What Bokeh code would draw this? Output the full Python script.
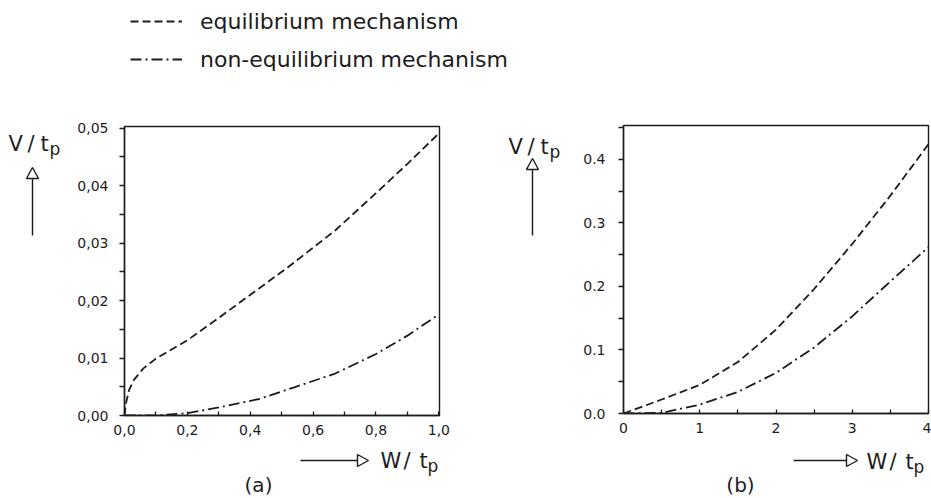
from bokeh.plotting import figure
from bokeh.layouts import row, column
from bokeh.models import Range1d, FixedTicker, Legend, LegendItem
from bokeh.core.properties import value
from bokeh.embed import file_html
from bokeh.resources import INLINE

# ---- panel (a): small w/t_p ----
W_A_EQ = [0.0, 0.005, 0.015, 0.03, 0.06, 0.10, 0.20, 0.30, 0.43, 0.52, 0.67, 0.80, 0.90, 1.00]
V_A_EQ = [0.0, 0.0022, 0.0045, 0.0062, 0.0082, 0.0099, 0.0131, 0.0170, 0.0222, 0.0258, 0.0322, 0.0387, 0.0438, 0.0491]
W_A_NE = [0.0, 0.10, 0.20, 0.30, 0.43, 0.54, 0.67, 0.80, 0.90, 1.00]
V_A_NE = [0.0, 0.0, 0.0004, 0.0014, 0.0029, 0.0049, 0.0073, 0.0107, 0.0139, 0.0176]

A_X_TICKS = [0.0, 0.2, 0.4, 0.6, 0.8, 1.0]
A_X_LABELS = ["0,0", "0,2", "0,4", "0,6", "0,8", "1,0"]
A_X_MINOR = [0.1, 0.3, 0.5, 0.7, 0.9]
A_Y_TICKS = [0.0, 0.01, 0.02, 0.03, 0.04, 0.05]
A_Y_LABELS = ["0,00", "0,01", "0,02", "0,03", "0,04", "0,05"]
A_Y_MINOR = [0.005, 0.015, 0.025, 0.035, 0.045]

# ---- panel (b): larger w/t_p ----
W_B = [0.0, 0.5, 1.0, 1.5, 2.0, 2.5, 3.0, 3.5, 4.0]
V_B_EQ = [0.0, 0.022, 0.045, 0.081, 0.132, 0.196, 0.267, 0.343, 0.424]
V_B_NE = [0.0, 0.001, 0.014, 0.034, 0.064, 0.104, 0.153, 0.208, 0.262]

B_X_TICKS = [0, 1, 2, 3, 4]
B_X_LABELS = ["0", "1", "2", "3", "4"]
B_X_MINOR = [0.5, 1.5, 2.5, 3.5]
B_Y_TICKS = [0.0, 0.1, 0.2, 0.3, 0.4]
B_Y_LABELS = ["0.0", "0.1", "0.2", "0.3", "0.4"]
B_Y_MINOR = [0.05, 0.15, 0.25, 0.35, 0.45]

SERIES_NAMES = ["equilibrium mechanism", "non-equilibrium mechanism"]

FONT = "DejaVu Sans"
INK = "#1c1c1c"
EQ_DASH = "8 4"
NE_DASH = "11 4 2 4"
CURVE_W = 1.8
NAN = float("nan")

# borders of the two chart panels (pixels)
A_LEFT, A_RIGHT, A_TOP, A_BOTTOM, A_WIDTH = 54, 41, 26, 30, 410
B_LEFT, B_RIGHT, B_TOP, B_BOTTOM, B_WIDTH = 53, 3, 25, 32, 361
PANEL_H = 345
FOOT_H = 53


def blank(width, height, left=0, right=0):
    """A bare drawing area in pixel units (y grows downwards)."""
    p = figure(width=width, height=height, output_backend="svg", toolbar_location=None,
               x_range=Range1d(left, width - right), y_range=Range1d(height, 0),
               min_border=0, min_border_left=left, min_border_right=right,
               x_axis_type=None, y_axis_type=None)
    p.grid.visible = False
    p.outline_line_color = None
    p.background_fill_color = "white"
    p.border_fill_color = "white"
    return p


def words(p, xs, ys, texts, size, align="left"):
    p.text(x=xs, y=ys, text=texts, text_font=value(FONT), text_font_size=value(size),
           text_color=INK, text_align=align, text_baseline="alphabetic")


def ratio_label(p, x0, base, letter, gaps):
    # "<letter> / t" followed by a lowered, smaller "p"
    g1, g2, g3 = gaps
    words(p, [x0, x0 + g1, x0 + g2], [base, base, base], [letter, "/", "t"], "21px")
    words(p, [x0 + g3], [base + 5], ["p"], "17px")


def up_arrow(p, x, tip, foot):
    base = tip + 11
    p.line([x, x], [foot, base], line_color=INK, line_width=1.4)
    p.patch([x - 6, x, x + 6], [base, tip, base], fill_color="white",
            line_color=INK, line_width=1.4)


def right_arrow(p, x0, tip, y):
    base = tip - 11
    p.line([x0, base], [y, y], line_color=INK, line_width=1.4)
    p.patch([base, tip, base], [y - 6, y, y + 6], fill_color="white",
            line_color=INK, line_width=1.4)


def make_panel(width, left, right, top, bottom, x_end, y_end,
               xt, xl, xm, yt, yl, ym, y_standoff):
    p = figure(width=width, height=PANEL_H, output_backend="svg", toolbar_location=None,
               x_range=Range1d(0, x_end), y_range=Range1d(0, y_end),
               min_border_left=left, min_border_right=right,
               min_border_top=top, min_border_bottom=bottom)
    p.grid.visible = False
    p.outline_line_color = INK
    p.outline_line_width = 1.4
    p.background_fill_color = "white"
    p.border_fill_color = "white"

    p.xaxis.ticker = FixedTicker(ticks=xt, minor_ticks=xm)
    p.xaxis.major_label_overrides = dict(zip(xt, xl))
    p.xaxis.major_tick_in = 4
    p.xaxis.major_tick_out = 0
    p.xaxis.minor_tick_in = 4
    p.xaxis.minor_tick_out = 0
    p.xaxis.major_label_standoff = 9

    p.yaxis.ticker = FixedTicker(ticks=yt, minor_ticks=ym)
    p.yaxis.major_label_overrides = dict(zip(yt, yl))
    p.yaxis.major_tick_in = 0
    p.yaxis.major_tick_out = 5
    p.yaxis.minor_tick_in = 0
    p.yaxis.minor_tick_out = 5
    p.yaxis.major_label_standoff = y_standoff

    for ax in (p.xaxis, p.yaxis):
        ax.axis_line_color = INK
        ax.axis_line_width = 1.4
        ax.major_tick_line_color = INK
        ax.minor_tick_line_color = INK
        ax.major_tick_line_width = 1.3
        ax.minor_tick_line_width = 1.3
        ax.major_label_text_font = FONT
        ax.major_label_text_font_size = "14px"
        ax.major_label_text_color = INK
    return p


# ---- legend strip across the top ----
head = blank(931, 100)
k_eq = head.line(x=[NAN], y=[NAN], line_color=INK, line_width=CURVE_W, line_dash=EQ_DASH)
k_ne = head.line(x=[NAN], y=[NAN], line_color=INK, line_width=CURVE_W, line_dash=NE_DASH)
legend = Legend(items=[LegendItem(label=SERIES_NAMES[0], renderers=[k_eq], index=0),
                       LegendItem(label=SERIES_NAMES[1], renderers=[k_ne], index=0)],
                location=(130, 28), padding=0, margin=0, spacing=12,
                glyph_width=52, glyph_height=26, label_height=26,
                label_standoff=18, border_line_color=None,
                background_fill_alpha=0,
                label_text_font=FONT, label_text_font_size="22px",
                label_text_color=INK)
head.add_layout(legend)

V_GAPS = (19, 32, 41)
W_GAPS = (23, 39, 47)

# ---- panel (a) ----
side_a = blank(70, 398)
ratio_label(side_a, 8, 43, "V", V_GAPS)
up_arrow(side_a, 32, 67, 135)

pa = make_panel(A_WIDTH, A_LEFT, A_RIGHT, A_TOP, A_BOTTOM, 1.002, 0.0503,
                A_X_TICKS, A_X_LABELS, A_X_MINOR,
                A_Y_TICKS, A_Y_LABELS, A_Y_MINOR, 11)
pa.line(W_A_EQ, V_A_EQ, line_color=INK, line_width=CURVE_W, line_dash=EQ_DASH)
pa.line(W_A_NE, V_A_NE, line_color=INK, line_width=CURVE_W, line_dash=NE_DASH)

foot_a = blank(A_WIDTH, FOOT_H, A_LEFT, A_RIGHT)
right_arrow(foot_a, 230, 298, 15)
ratio_label(foot_a, 310, 15, "W", W_GAPS)
words(foot_a, [188], [39], ["(a)"], "20px", "center")

# ---- panel (b) ----
side_b = blank(90, 398)
ratio_label(side_b, 28, 46, "V", V_GAPS)
up_arrow(side_b, 52, 58, 135)

pb = make_panel(B_WIDTH, B_LEFT, B_RIGHT, B_TOP, B_BOTTOM, 4.0, 0.4535,
                B_X_TICKS, B_X_LABELS, B_X_MINOR,
                B_Y_TICKS, B_Y_LABELS, B_Y_MINOR, 13)
pb.line(W_B, V_B_EQ, line_color=INK, line_width=CURVE_W, line_dash=EQ_DASH)
pb.line(W_B, V_B_NE, line_color=INK, line_width=CURVE_W, line_dash=NE_DASH)

foot_b = blank(B_WIDTH, FOOT_H, B_LEFT, B_RIGHT)
right_arrow(foot_b, 223, 287, 15)
ratio_label(foot_b, 296, 16, "W", W_GAPS)
words(foot_b, [170], [39], ["(b)"], "20px", "center")

layout = column(head,
                row(side_a, column(pa, foot_a), side_b, column(pb, foot_b)))
open("out.html", "w").write(file_html(layout, INLINE))
